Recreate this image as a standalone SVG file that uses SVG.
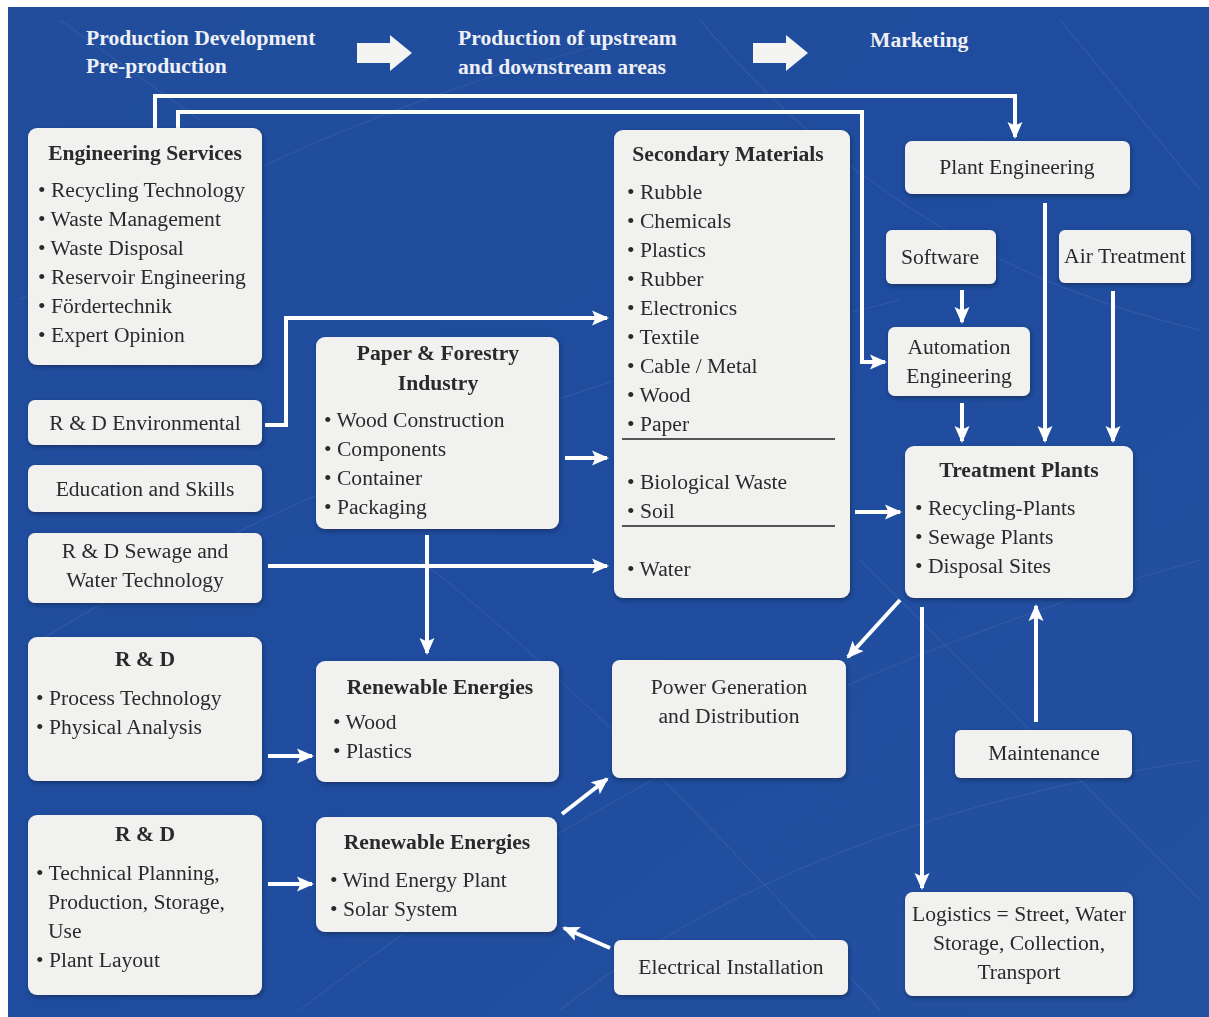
<svg xmlns="http://www.w3.org/2000/svg" width="1209" height="1017" viewBox="0 0 1209 1017">
<defs>
<style>
.box{fill:#f1f1f0;}
.t{font-family:"Liberation Serif","Times New Roman",serif;font-size:21.6px;fill:#2b2b2b;}
.b{font-weight:bold;}
.c{text-anchor:middle;}
.h{font-family:"Liberation Serif","Times New Roman",serif;font-size:21.6px;font-weight:bold;fill:#eef0f6;}
.cn{fill:none;stroke:#ffffff;stroke-width:4;marker-end:url(#ah);}
.bg{fill:none;stroke:#ffffff;stroke-opacity:0.07;stroke-width:1.2;}
</style>
<marker id="ah" markerUnits="userSpaceOnUse" markerWidth="18" markerHeight="18" viewBox="0 0 18 18" refX="15" refY="9" orient="auto">
<path d="M0,1.5 L17,9 L0,16.5 L3.5,9 Z" fill="#ffffff"/>
</marker>
<filter id="sh" x="-10%" y="-10%" width="125%" height="130%">
<feDropShadow dx="1" dy="2" stdDeviation="2" flood-color="#0a1a40" flood-opacity="0.55"/>
</filter>
<linearGradient id="bgg" x1="0" y1="0" x2="1" y2="1">
<stop offset="0" stop-color="#214d9c"/>
<stop offset="0.5" stop-color="#1f4c9e"/>
<stop offset="1" stop-color="#2350a0"/>
</linearGradient>
</defs>
<rect x="0" y="0" width="1209" height="1017" fill="#ffffff"/>
<rect x="8" y="7" width="1201" height="1010" fill="url(#bgg)"/>
<g id="background-texture">
<path class="bg" d="M20,300 Q300,120 620,40"/>
<path class="bg" d="M40,640 Q400,420 900,300"/>
<path class="bg" d="M300,1010 Q700,700 1200,560"/>
<path class="bg" d="M560,1010 Q800,820 1200,760"/>
<path class="bg" d="M700,20 Q900,260 1200,330"/>
<path class="bg" d="M860,560 Q1000,700 1200,900"/>
<path class="bg" d="M420,560 Q600,700 880,1010"/>
<path class="bg" d="M60,20 L200,120"/>
<path class="bg" d="M1060,20 L1200,190"/>
</g>
<g id="header">
<text class="h" x="86" y="45">Production Development</text>
<text class="h" x="86" y="73">Pre-production</text>
<path d="M357,43 L390,43 L390,35 L412,53 L390,71 L390,63 L357,63 Z" fill="#f4f4f2"/>
<text class="h" x="458" y="45">Production of upstream</text>
<text class="h" x="458" y="74">and downstream areas</text>
<path d="M753,43 L786,43 L786,35 L808,53 L786,71 L786,63 L753,63 Z" fill="#f4f4f2"/>
<text class="h" x="870" y="47">Marketing</text>
</g>
<g id="connectors">
<path class="cn" d="M155,128 L155,96 L1015,96 L1015,137"/>
<path class="cn" d="M178,128 L178,112 L862,112 L862,362 L885,362"/>
<path class="cn" d="M265,425 L286,425 L286,318 L607,318"/>
<path class="cn" d="M565,458 L607,458"/>
<path class="cn" d="M268,566 L607,566"/>
<path class="cn" d="M427,535 L427,653"/>
<path class="cn" d="M268,756 L312,756"/>
<path class="cn" d="M268,884 L312,884"/>
<path class="cn" d="M562,814 L607,779"/>
<path class="cn" d="M610,948 L564,928"/>
<path class="cn" d="M855,512 L900,512"/>
<path class="cn" d="M962,290 L962,322"/>
<path class="cn" d="M962,403 L962,441"/>
<path class="cn" d="M1045,203 L1045,441"/>
<path class="cn" d="M1113,291 L1113,441"/>
<path class="cn" d="M900,600 L848,657"/>
<path class="cn" d="M922,607 L922,888"/>
<path class="cn" d="M1036,722 L1036,606"/>
</g>
<g id="engineering-services" filter="url(#sh)">
<rect class="box" x="28" y="128" width="234" height="237" rx="9"/>
<text class="t b c" x="145" y="160">Engineering Services</text>
<text class="t" x="38" y="197">• Recycling Technology</text>
<text class="t" x="38" y="226">• Waste Management</text>
<text class="t" x="38" y="255">• Waste Disposal</text>
<text class="t" x="38" y="284">• Reservoir Engineering</text>
<text class="t" x="38" y="313">• Fördertechnik</text>
<text class="t" x="38" y="342">• Expert Opinion</text>
</g>
<g id="rd-environmental" filter="url(#sh)">
<rect class="box" x="28" y="400" width="234" height="45" rx="7"/>
<text class="t c" x="145" y="430">R &amp; D Environmental</text>
</g>
<g id="education-skills" filter="url(#sh)">
<rect class="box" x="28" y="465" width="234" height="47" rx="7"/>
<text class="t c" x="145" y="496">Education and Skills</text>
</g>
<g id="rd-sewage" filter="url(#sh)">
<rect class="box" x="28" y="533" width="234" height="70" rx="7"/>
<text class="t c" x="145" y="558">R &amp; D Sewage and</text>
<text class="t c" x="145" y="587">Water Technology</text>
</g>
<g id="rd-process" filter="url(#sh)">
<rect class="box" x="28" y="637" width="234" height="144" rx="9"/>
<text class="t b c" x="145" y="666">R &amp; D</text>
<text class="t" x="36" y="705">• Process Technology</text>
<text class="t" x="36" y="734">• Physical Analysis</text>
</g>
<g id="rd-technical" filter="url(#sh)">
<rect class="box" x="28" y="815" width="234" height="180" rx="9"/>
<text class="t b c" x="145" y="841">R &amp; D</text>
<text class="t" x="36" y="880">• Technical Planning,</text>
<text class="t" x="48" y="909">Production, Storage,</text>
<text class="t" x="48" y="938">Use</text>
<text class="t" x="36" y="967">• Plant Layout</text>
</g>
<g id="paper-forestry" filter="url(#sh)">
<rect class="box" x="316" y="337" width="243" height="192" rx="9"/>
<text class="t b c" x="438" y="360">Paper &amp; Forestry</text>
<text class="t b c" x="438" y="390">Industry</text>
<text class="t" x="324" y="427">• Wood Construction</text>
<text class="t" x="324" y="456">• Components</text>
<text class="t" x="324" y="485">• Container</text>
<text class="t" x="324" y="514">• Packaging</text>
</g>
<g id="renewable-wood" filter="url(#sh)">
<rect class="box" x="316" y="661" width="243" height="121" rx="9"/>
<text class="t b c" x="440" y="694">Renewable Energies</text>
<text class="t" x="333" y="729">• Wood</text>
<text class="t" x="333" y="758">• Plastics</text>
</g>
<g id="renewable-wind" filter="url(#sh)">
<rect class="box" x="316" y="817" width="241" height="115" rx="9"/>
<text class="t b c" x="437" y="849">Renewable Energies</text>
<text class="t" x="330" y="887">• Wind Energy Plant</text>
<text class="t" x="330" y="916">• Solar System</text>
</g>
<g id="secondary-materials" filter="url(#sh)">
<rect class="box" x="614" y="130" width="236" height="468" rx="9"/>
<text class="t b c" x="728" y="161">Secondary Materials</text>
<text class="t" x="627" y="199">• Rubble</text>
<text class="t" x="627" y="228">• Chemicals</text>
<text class="t" x="627" y="257">• Plastics</text>
<text class="t" x="627" y="286">• Rubber</text>
<text class="t" x="627" y="315">• Electronics</text>
<text class="t" x="627" y="344">• Textile</text>
<text class="t" x="627" y="373">• Cable / Metal</text>
<text class="t" x="627" y="402">• Wood</text>
<text class="t" x="627" y="431">• Paper</text>
<line x1="622" y1="439" x2="835" y2="439" stroke="#555555" stroke-width="1.8"/>
<text class="t" x="627" y="489">• Biological Waste</text>
<text class="t" x="627" y="518">• Soil</text>
<line x1="622" y1="526" x2="835" y2="526" stroke="#555555" stroke-width="1.8"/>
<text class="t" x="627" y="576">• Water</text>
</g>
<g id="power-generation" filter="url(#sh)">
<rect class="box" x="612" y="660" width="234" height="118" rx="8"/>
<text class="t c" x="729" y="694">Power Generation</text>
<text class="t c" x="729" y="723">and Distribution</text>
</g>
<g id="electrical-installation" filter="url(#sh)">
<rect class="box" x="614" y="940" width="234" height="55" rx="7"/>
<text class="t c" x="731" y="974">Electrical Installation</text>
</g>
<g id="plant-engineering" filter="url(#sh)">
<rect class="box" x="905" y="141" width="225" height="53" rx="7"/>
<text class="t c" x="1017" y="174">Plant Engineering</text>
</g>
<g id="software" filter="url(#sh)">
<rect class="box" x="886" y="230" width="110" height="54" rx="6"/>
<text class="t c" x="940" y="264">Software</text>
</g>
<g id="air-treatment" filter="url(#sh)">
<rect class="box" x="1059" y="230" width="132" height="53" rx="6"/>
<text class="t c" x="1125" y="263">Air Treatment</text>
</g>
<g id="automation-engineering" filter="url(#sh)">
<rect class="box" x="888" y="327" width="142" height="69" rx="7"/>
<text class="t c" x="959" y="354">Automation</text>
<text class="t c" x="959" y="383">Engineering</text>
</g>
<g id="treatment-plants" filter="url(#sh)">
<rect class="box" x="905" y="446" width="228" height="152" rx="9"/>
<text class="t b c" x="1019" y="477">Treatment Plants</text>
<text class="t" x="915" y="515">• Recycling-Plants</text>
<text class="t" x="915" y="544">• Sewage Plants</text>
<text class="t" x="915" y="573">• Disposal Sites</text>
</g>
<g id="maintenance" filter="url(#sh)">
<rect class="box" x="955" y="730" width="177" height="48" rx="6"/>
<text class="t c" x="1044" y="760">Maintenance</text>
</g>
<g id="logistics" filter="url(#sh)">
<rect class="box" x="905" y="892" width="228" height="104" rx="8"/>
<text class="t c" x="1019" y="921">Logistics = Street, Water</text>
<text class="t c" x="1019" y="950">Storage, Collection,</text>
<text class="t c" x="1019" y="979">Transport</text>
</g>
</svg>
